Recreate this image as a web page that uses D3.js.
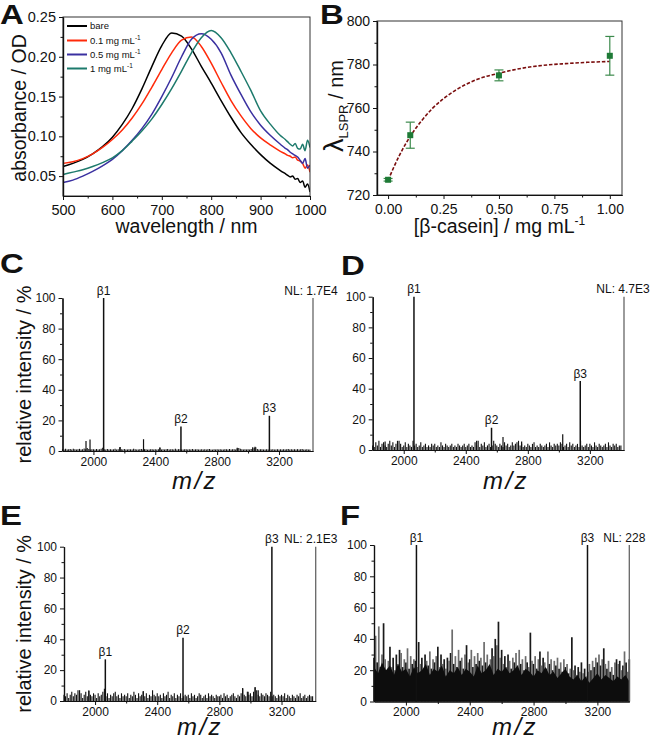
<!DOCTYPE html>
<html><head><meta charset="utf-8">
<script src="https://cdn.jsdelivr.net/npm/d3@7"></script>
<style>
body{margin:0;background:#fff}
svg text{font-family:"Liberation Sans",Arial,Helvetica,sans-serif;fill:#111}
</style>
</head><body>
<svg id="c" width="651" height="741"></svg>
<script>
// ---------------- Panel A data ----------------
const wavelengths = [500,520,540,560,580,600,620,640,660,680,700,720,740,760,780,800,820,840,860,880,900,920,940,950,955,960,965,970,975,980,985,990,995,1000];
const absBare = [.062,.066,.071,.078,.087,.099,.115,.135,.160,.188,.214,.230,.226,.210,.188,.167,.145,.124,.105,.090,.077,.066,.057,.053,.051,.049,.050,.046,.047,.042,.044,.036,.040,.030];
const abs01   = [.066,.068,.072,.078,.086,.096,.108,.123,.141,.162,.184,.205,.221,.225,.213,.192,.168,.145,.126,.110,.098,.089,.081,.078,.076,.075,.073,.074,.070,.069,.066,.060,.064,.055];
const abs05   = [.042,.045,.050,.056,.063,.071,.082,.095,.110,.128,.150,.174,.200,.222,.229,.222,.205,.177,.153,.131,.114,.101,.090,.085,.083,.080,.078,.076,.074,.070,.066,.072,.060,.064];
const abs1    = [.052,.055,.058,.062,.067,.073,.082,.094,.107,.122,.140,.160,.182,.205,.224,.233,.224,.205,.182,.158,.132,.115,.101,.096,.093,.090,.088,.091,.085,.084,.090,.082,.095,.086];
const legendLabels = ["bare","0.1 mg mL","0.5 mg mL","1 mg mL"];
const legendSup = ["","-1","-1","-1"];
const seriesColors = ["#000000","#ff2a0a","#3a30a0","#1d7a6c"];
const aXTicks = [500,600,700,800,900,1000];
const aYTicks = [0.05,0.10,0.15,0.20,0.25];

// ---------------- Panel B data ----------------
const conc = [0,0.1,0.5,1.0];
const lspr = [727,747.5,775,784];
const lsprErr = [0.6,6,2.5,8.9];
const fitConc = [0,0.05,0.1,0.15,0.2,0.25,0.3,0.35,0.4,0.5,0.6,0.7,0.8,0.9,1.0];
const fitLspr = [726.8,738,747,754,759.8,764.3,767.9,770.8,773.1,776,778.2,779.6,780.4,781,781.4];
const bXTicks = [0,0.25,0.5,0.75,1.0];
const bYTicks = [720,740,760,780,800];

// ---------------- Spectra data (m/z grid 1800..3400, step 10) ----------------
const mzGrid = d3.range(1800,3401,10);
const noiseC = [1.2,1.0,1.4,0.9,1.1,1.3,1.0,1.5,1.2,0.9,1.1,1.4,1.0,1.2,1.6,1.1,2.0,1.3,1.0,1.2,
1.1,0.9,1.3,1.0,1.2,1.5,2.2,1.1,1.0,1.3,0.9,1.2,1.0,1.1,1.4,1.0,1.2,2.4,1.1,1.0,
1.3,1.0,0.9,1.2,1.1,1.0,1.4,1.2,1.0,0.9,1.1,1.3,1.0,1.2,1.1,0.9,1.0,1.2,1.1,1.0,
1.2,1.0,1.1,1.9,1.0,1.2,0.9,1.1,1.3,1.0,1.2,1.1,1.0,1.4,1.0,1.2,1.1,0.9,1.0,1.2,
1.1,1.0,1.2,0.9,1.3,1.0,1.1,1.2,1.0,0.9,1.1,1.0,1.2,1.0,1.1,1.3,1.0,0.9,1.1,1.0,
1.2,1.0,1.1,0.9,1.0,1.2,1.1,1.0,1.3,1.0,1.1,1.2,1.0,1.6,2.0,1.4,1.1,1.0,1.2,1.0,
1.1,1.0,1.3,1.5,2.1,2.4,1.3,1.0,1.1,1.2,1.0,0.9,1.1,1.0,1.2,1.0,1.1,0.9,1.0,1.2,
1.0,1.1,0.9,1.2,1.0,1.1,1.3,1.0,1.2,0.9,1.1,1.0,1.2,1.0,1.1,1.3,1.0,0.9,1.1,1.0,1.0];
const noiseD = [3,2,5,3,6,2,4,5,3,2,4,6,3,5,2,4,3,6,4,2,
3,5,2,4,3,2,6,3,4,2,3,5,2,3,4,2,3,2,4,3,
4,2,3,2,5,3,2,4,3,2,3,4,2,3,2,4,3,2,3,4,
2,3,4,2,3,2,5,3,6,2,4,3,5,2,3,4,2,3,6,4,
3,2,4,3,2,5,3,4,2,3,5,3,4,5,6,3,4,2,3,2,
4,3,2,4,5,2,3,2,4,3,2,3,4,2,5,3,2,4,3,4,
3,5,4,2,3,4,2,5,3,4,2,3,4,2,6,3,2,3,4,2,
4,3,2,5,3,2,4,3,2,3,4,2,5,3,2,4,3,4,2,3,3];
const noiseE = [4,3,5,2,4,6,3,5,4,7,3,5,2,4,6,3,7,4,3,5,
4,2,5,3,4,6,8,3,5,2,4,3,5,6,3,4,2,5,3,4,
3,5,2,4,3,6,4,2,5,3,4,6,3,5,2,4,3,7,4,3,
5,3,4,2,5,3,4,6,2,4,3,5,2,4,3,5,2,3,4,3,
4,2,5,3,4,2,3,5,4,2,3,4,2,5,3,4,3,2,4,3,
3,4,2,5,3,4,2,3,4,5,3,2,4,3,5,8,4,3,6,4,
5,3,6,9,7,4,3,5,4,3,5,4,3,6,3,4,3,2,4,3,
4,3,5,2,4,3,2,4,3,2,4,3,5,2,3,4,2,3,4,3,3];
const noiseF = [28,42,25,48,22,30,50,27,18,26,
35,22,28,20,30,24,33,31,22,27,
25,34,21,29,24,27,26,22,38,24,
28,20,30,26,23,32,21,27,25,29,
35,22,30,24,27,21,28,26,31,46,
24,29,22,33,26,28,21,30,36,25,
27,33,22,29,24,31,26,28,23,38,
25,30,22,27,34,29,40,36,51,28,
33,24,29,22,30,26,21,28,25,31,
23,33,24,27,20,29,25,22,44,26,
24,29,21,27,32,23,28,25,21,32,
24,27,20,26,23,28,21,25,19,27,
22,24,18,21,41,20,23,17,22,19,
25,18,21,16,19,24,20,26,22,28,
25,30,23,27,34,24,21,26,19,22,
17,25,27,24,26,20,23,32,25,19,27];
const mzFloor = d3.range(1800,3401,25);
const floorF = [22,18,25,20,23,17,24,19,21,16,
22,18,20,24,17,21,19,23,16,20,
18,22,17,21,19,16,23,18,20,24,
17,21,19,22,18,20,23,17,21,19,
16,20,18,22,17,19,15,18,21,16,
14,17,13,16,12,15,18,14,17,15,
13,16,14,17,13];
const extraC = [[1952,6.5],[1978,7.5],[2173,2.6],[2324,7.7],[2430,2.5],[2930,2.2],[3030,2.5],[3045,2.8]];
const extraD = [[1880,5.5],[1960,6],[2470,6],[2640,8.5],[2760,5.5],[3025,10.3]];
const extraE = [[1900,7],[1960,6.5],[2310,6.5],[2950,8.5],[2985,6],[3030,8.8],[3050,7]];
const extraF = [];
const betaMz = [2066,2566,3138];
const betaNames = ["β1","β2","β3"];
const betaC = [100,16,23];
const betaD = [100,14.5,45];
const betaE = [27,41,100];
const betaF = [100,null,100];
const specXTicks = [2000,2400,2800,3200];
const specXMinor = [2200,2600,3000];
const specYTicks = [0,20,40,60,80,100];
const specYMinor = [10,30,50,70,90];

// ---------------- drawing ----------------
const svg = d3.select("#c");

function styleAxis(sel, fs){
  sel.attr("font-family",null).attr("font-size",null);
  sel.select(".domain").attr("stroke","#111").attr("stroke-width",1.2);
  sel.selectAll(".tick line").attr("stroke","#111").attr("stroke-width",1);
  sel.selectAll("text").attr("font-size",fs).style("fill","#111");
}
function drawAxes(g,x,y,o){
  const yb=y.range()[0], xl=x.range()[0];
  g.append("g").attr("transform",`translate(0,${yb})`)
   .call(d3.axisBottom(x).tickValues(o.xMinor).tickFormat("").tickSize(2.5).tickSizeOuter(0)).call(s=>styleAxis(s,o.fs));
  g.append("g").attr("transform",`translate(${xl},0)`)
   .call(d3.axisLeft(y).tickValues(o.yMinor).tickFormat("").tickSize(2.5).tickSizeOuter(0)).call(s=>styleAxis(s,o.fs));
  g.append("g").attr("transform",`translate(0,${yb})`)
   .call(d3.axisBottom(x).tickValues(o.xMajor).tickFormat(o.xFmt).tickSize(4).tickSizeOuter(0).tickPadding(o.xPad)).call(s=>styleAxis(s,o.fs));
  g.append("g").attr("transform",`translate(${xl},0)`)
   .call(d3.axisLeft(y).tickValues(o.yMajor).tickFormat(o.yFmt).tickSize(4).tickSizeOuter(0).tickPadding(o.yPad)).call(s=>styleAxis(s,o.fs));
}
function letter(t,x,yb){
  svg.append("text").attr("x",0).attr("y",0).attr("transform",`translate(${x},${yb}) scale(1.22,1)`)
    .attr("font-size",27).attr("font-weight","bold").text(t);
}

// ===== Panel A =====
{
  const g = svg.append("g");
  const x = d3.scaleLinear([500,1000],[63,310]);
  const y = d3.scaleLinear([0.025,0.25],[196,17]);
  const series=[absBare,abs01,abs05,abs1];
  const line = d3.line().x((d,i)=>x(wavelengths[i])).y(d=>y(d)).curve(d3.curveMonotoneX);
  g.append("defs").append("clipPath").attr("id","clipA").append("rect").attr("x",63).attr("y",17).attr("width",247).attr("height",179);
  series.forEach((s,k)=>{
    g.append("path").attr("d",line(s)).attr("fill","none").attr("stroke",seriesColors[k]).attr("stroke-width",1.5).attr("clip-path","url(#clipA)");
  });
  g.append("rect").attr("x",63).attr("y",17).attr("width",247).attr("height",179).attr("fill","none").attr("stroke","#333").attr("stroke-width",1);
  drawAxes(g,x,y,{xMajor:aXTicks,xMinor:[550,650,750,850,950],yMajor:aYTicks,yMinor:[0.075,0.125,0.175,0.225],
    xFmt:d3.format("d"),yFmt:d3.format(".2f"),fs:14.5,xPad:5,yPad:3});
  const rows=[26,40.5,54.5,68.5];
  legendLabels.forEach((t,k)=>{
    g.append("line").attr("x1",67).attr("x2",87).attr("y1",rows[k]).attr("y2",rows[k]).attr("stroke",seriesColors[k]).attr("stroke-width",2);
    const tx=g.append("text").attr("x",90).attr("y",rows[k]+3.3).attr("font-size",9.5).text(t);
    if(legendSup[k]) tx.append("tspan").attr("dy",-4).attr("font-size",6.5).text(legendSup[k]);
  });
  g.append("text").attr("x",186.5).attr("y",233).attr("text-anchor","middle").attr("font-size",19.5).text("wavelength / nm");
  g.append("text").attr("transform","translate(26,108) rotate(-90)").attr("text-anchor","middle").attr("font-size",19.5).text("absorbance / OD");
  letter("A",0,24);
}

// ===== Panel B =====
{
  const g = svg.append("g");
  const x = d3.scaleLinear([-0.05,1.055],[377,622]);
  const y = d3.scaleLinear([720,800],[195,21]);
  g.append("rect").attr("x",377).attr("y",21).attr("width",245).attr("height",174).attr("fill","none").attr("stroke","#333").attr("stroke-width",1);
  drawAxes(g,x,y,{xMajor:bXTicks,xMinor:[0.125,0.375,0.625,0.875],yMajor:bYTicks,yMinor:[730,750,770,790],
    xFmt:d3.format(".2f"),yFmt:d3.format("d"),fs:14,xPad:5,yPad:3});
  const fit = d3.line().x((d,i)=>x(fitConc[i])).y(d=>y(d)).curve(d3.curveMonotoneX);
  g.append("path").attr("d",fit(fitLspr)).attr("fill","none").attr("stroke","#7a0d0d").attr("stroke-width",1.6).attr("stroke-dasharray","3.5,1.8");
  conc.forEach((c,i)=>{
    const cx=x(c);
    g.append("line").attr("x1",cx).attr("x2",cx).attr("y1",y(lspr[i]-lsprErr[i])).attr("y2",y(lspr[i]+lsprErr[i])).attr("stroke","#3c8a4c").attr("stroke-width",1.2);
    [lspr[i]-lsprErr[i],lspr[i]+lsprErr[i]].forEach(v=>{
      g.append("line").attr("x1",cx-4.5).attr("x2",cx+4.5).attr("y1",y(v)).attr("y2",y(v)).attr("stroke","#3c8a4c").attr("stroke-width",1.2);
    });
    g.append("rect").attr("x",cx-3).attr("y",y(lspr[i])-3).attr("width",6).attr("height",6).attr("fill","#1e7a36");
  });
  const xl=g.append("text").attr("x",499.5).attr("y",233).attr("text-anchor","middle").attr("font-size",19.5).text("[β-casein] / mg mL");
  xl.append("tspan").attr("dy",-8).attr("font-size",12).text("-1");
  const yl=g.append("text").attr("transform","translate(343,106) rotate(-90)").attr("text-anchor","middle").attr("font-size",20);
  yl.append("tspan").attr("font-size",27).text("λ");
  yl.append("tspan").attr("font-size",13).attr("dy",5).text("LSPR");
  yl.append("tspan").attr("dy",-5).text(" / nm");
  letter("B",320,24);
}

// ===== Spectra =====
const specPanels = [
  {L:"C",xr:[62.5,313],yr:[451,298],mzMax:3420,noise:noiseC,extra:extraC,beta:betaC,nl:"NL: 1.7E4",ylab:true,mzl:[195,489],let:[0,273],nlx:-2},
  {L:"D",xr:[372.7,624],yr:[450,296.7],mzMax:3420,noise:noiseD,extra:extraD,beta:betaD,nl:"NL: 4.7E3",ylab:false,mzl:[506,489],let:[341,275],nlx:-1},
  {L:"E",xr:[64,315.7],yr:[701,546.7],mzMax:3420,noise:noiseE,extra:extraE,beta:betaE,nl:"NL: 2.1E3",ylab:true,mzl:[200,735],let:[0,525],nlx:-5},
  {L:"F",xr:[374,629.3],yr:[701.5,545],mzMax:3400,noise:noiseF,extra:extraF,beta:betaF,nl:"NL: 228",ylab:false,mzl:[515,735],let:[340,525],nlx:-5}
];
specPanels.forEach(p=>{
  const g = svg.append("g");
  const x = d3.scaleLinear([1800,p.mzMax],p.xr);
  const y = d3.scaleLinear([0,100],p.yr);
  const isF = p.L==="F";
  g.selectAll("line.n").data(p.noise).join("line").attr("class","n")
    .attr("x1",(d,i)=>x(mzGrid[i])).attr("x2",(d,i)=>x(mzGrid[i]))
    .attr("y1",y(0)).attr("y2",d=>y(d))
    .attr("stroke",(d,i)=> isF ? (i%2? "#6c6c6c":"#1a1a1a") : "#111")
    .attr("stroke-width", isF?1.7:1.1);
  if(isF){
    const area=d3.area().x((d,i)=>x(mzFloor[i])).y0(y(0)).y1(d=>y(d));
    g.append("path").attr("d",area(floorF)).attr("fill","#0d0d0d");
  }
  g.selectAll("line.e").data(p.extra).join("line").attr("class","e")
    .attr("x1",d=>x(d[0])).attr("x2",d=>x(d[0])).attr("y1",y(0)).attr("y2",d=>y(d[1]))
    .attr("stroke","#111").attr("stroke-width",1.2);
  p.beta.forEach((v,i)=>{
    if(v==null) return;
    const bx=x(betaMz[i]);
    g.append("line").attr("x1",bx).attr("x2",bx).attr("y1",y(0)).attr("y2",y(v)).attr("stroke","#111").attr("stroke-width",1.5);
    g.append("text").attr("x",bx).attr("y",y(v)-3.5).attr("text-anchor","middle").attr("font-size",12).text(betaNames[i]);
  });
  const rx = x(p.mzMax);
  g.append("line").attr("x1",rx).attr("x2",rx).attr("y1",y(0)).attr("y2",y(100)).attr("stroke","#666").attr("stroke-width",1.3);
  g.append("text").attr("x",rx+p.nlx).attr("y",y(100)-3.5).attr("text-anchor","middle").attr("font-size",12).text(p.nl);
  drawAxes(g,x,y,{xMajor:specXTicks,xMinor:specXMinor,yMajor:specYTicks,yMinor:specYMinor,
    xFmt:d3.format("d"),yFmt:d3.format("d"),fs:12,xPad:2,yPad:3});
  g.append("text").attr("x",p.mzl[0]).attr("y",p.mzl[1]).attr("text-anchor","middle").attr("font-size",24)
    .attr("letter-spacing",2.5).attr("font-style","italic").text("m/z");
  if(p.ylab){
    g.append("text").attr("transform",`translate(31,${(p.yr[0]+p.yr[1])/2}) rotate(-90)`).attr("text-anchor","middle").attr("font-size",20).text("relative intensity / %");
  }
  letter(p.L,p.let[0],p.let[1]);
});
</script>
</body></html>
